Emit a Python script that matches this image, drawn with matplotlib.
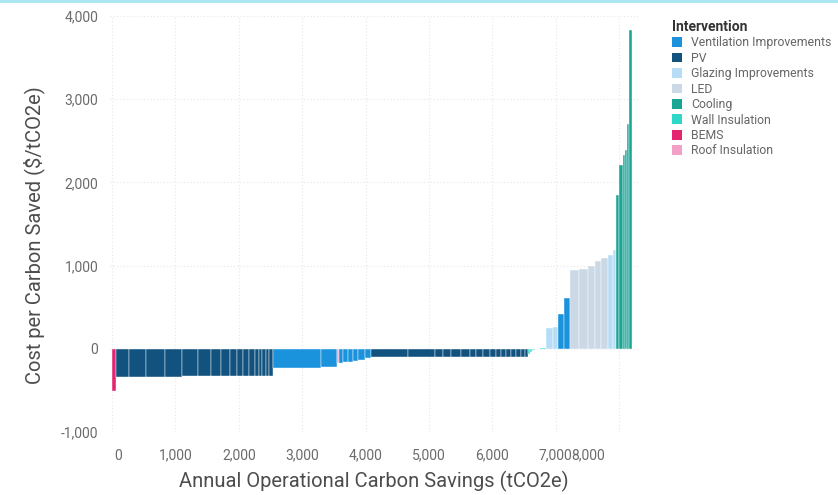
import matplotlib.pyplot as plt
import numpy as np
from matplotlib.patches import Patch
from matplotlib.lines import Line2D
from matplotlib.ticker import FuncFormatter
from matplotlib.transforms import ScaledTranslation

plt.rcParams['font.family'] = ['Roboto', 'DejaVu Sans']

# interventions in order of cost (MACC ordering)
intervention = (['BEMS'] + ['PV'] * 17 + ['Ventilation Improvements'] * 2 + ['Roof Insulation']
                + ['Ventilation Improvements'] * 6 + ['PV'] * 17 + ['Wall Insulation'] * 5
                + ['Glazing Improvements'] * 2 + ['Ventilation Improvements'] * 2
                + ['LED'] * 5 + ['Glazing Improvements'] * 2 + ['Cooling'] * 6)

# annual savings of each measure (tCO2e) -> bar width
savings = [70,
           205, 268, 300, 268, 237, 205, 158, 142, 110, 110, 95, 79, 63, 63, 63, 47, 63,
           757, 252,
           32,
           63, 79, 79, 79, 95, 95,
           584, 426, 126, 126, 158, 142, 95, 110, 110, 95, 79, 79, 79, 79, 79, 63, 47,
           32, 32, 47, 90, 84,
           110, 79,
           95, 95,
           142, 142, 110, 95, 110,
           79, 47,
           58, 52, 32, 32, 40, 40]

# cost per tonne saved ($/tCO2e) -> bar height
cost = [-505,
        -334, -334, -333, -333, -332, -332, -331, -331, -330, -330, -330, -329, -329, -328, -328, -327, -327,
        -226, -224,
        -172,
        -170, -163, -155, -146, -133, -116,
        -104, -104, -103, -103, -102, -102, -101, -101, -100, -100, -99, -99, -98, -98, -97, -96, -95,
        -60, -35, -12, 3, 8,
        250, 268,
        420, 605,
        950, 965, 1000, 1050, 1090,
        1130, 1190,
        1850, 2210, 2330, 2390, 2700, 3830]

legend_order = ['Ventilation Improvements', 'PV', 'Glazing Improvements', 'LED',
                'Cooling', 'Wall Insulation', 'BEMS', 'Roof Insulation']
colors = {
    'Ventilation Improvements': '#1B93DC',
    'PV': '#12527E',
    'Glazing Improvements': '#B6DDF5',
    'LED': '#CBD9E6',
    'Cooling': '#1AA594',
    'Wall Insulation': '#2ED8C8',
    'BEMS': '#E3246F',
    'Roof Insulation': '#F4A0C6',
}

x_ticks = np.arange(0, 9000, 1000)
y_ticks = np.arange(-1000, 5000, 1000)

widths = np.array(savings, dtype=float)
lefts = np.concatenate([[0], np.cumsum(widths)[:-1]])

fig = plt.figure(figsize=(8.38, 4.95), dpi=100)
ax = fig.add_axes([109.5 / 838, 1 - 432 / 495, 528.8 / 838, 416 / 495])

ax.bar(lefts, cost, width=widths, align='edge',
       color=[colors[i] for i in intervention], edgecolor='white', linewidth=0.3, zorder=3)

ax.set_xlim(-40, 8300)
ax.set_ylim(-1000, 4000)
ax.set_xticks(x_ticks)
ax.set_yticks(y_ticks)
fmt = FuncFormatter(lambda v, p: f'{v:,.0f}')
ax.xaxis.set_major_formatter(fmt)
ax.yaxis.set_major_formatter(fmt)
ax.tick_params(length=0, labelsize=10, labelcolor='#6b6b6b')
ax.tick_params(axis='x', pad=12)
ax.tick_params(axis='y', pad=8)

ax.grid(True, color='#e6e6e6', linestyle=(0, (1, 2)), linewidth=0.8, zorder=0)
for s in ax.spines.values():
    s.set_visible(False)

# nudge the end labels inwards
xl = ax.get_xticklabels()
xl[0].set_transform(xl[0].get_transform() + ScaledTranslation(6 / 100, 0, fig.dpi_scale_trans))
xl[-1].set_transform(xl[-1].get_transform() + ScaledTranslation(-31 / 100, 0, fig.dpi_scale_trans))

ax.set_xlabel('Annual Operational Carbon Savings (tCO2e)', fontsize=14.5, color='#4d4d4d')
ax.set_ylabel('Cost per Carbon Saved ($/tCO2e)', fontsize=14.5, color='#4d4d4d')
ax.xaxis.set_label_coords(0.5, -0.093)
ax.yaxis.set_label_coords(-0.122, 0.474)

handles = [Patch(facecolor=colors[k], edgecolor='none') for k in legend_order]
leg = fig.legend(handles, legend_order, title='Intervention', loc='upper left',
                 bbox_to_anchor=(667 / 838, 1 - 15 / 495), frameon=False, fontsize=8.8,
                 title_fontsize=10, handlelength=0.85, handleheight=0.85, handletextpad=0.7,
                 labelspacing=0.2, alignment='left', borderaxespad=0)
leg.get_title().set_fontweight('bold')
leg.get_title().set_color('#333333')
for t in leg.get_texts():
    t.set_color('#666666')

fig.add_artist(Line2D([0, 1], [0.997, 0.997], color='#a6e6f0', linewidth=2))

fig.savefig('out.png', dpi=100)
